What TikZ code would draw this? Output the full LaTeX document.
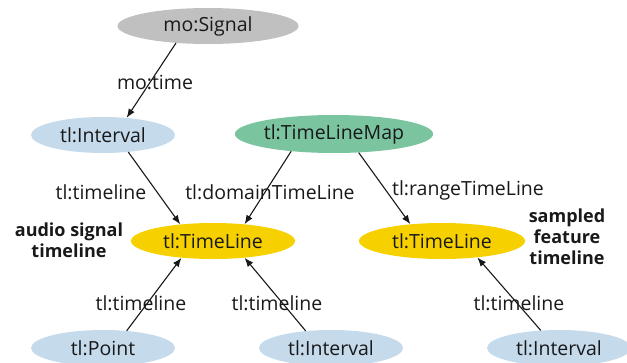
\documentclass[tikz,border=0pt]{standalone}
\usepackage{fontspec}
\setmainfont{Open Sans}
\usetikzlibrary{shapes.geometric,arrows.meta}
\definecolor{sigGray}{RGB}{192,192,192}
\definecolor{intBlue}{RGB}{197,218,235}
\definecolor{mapGreen}{RGB}{122,196,160}
\definecolor{lineYellow}{RGB}{247,208,0}
\tikzset{
  cls/.style={ellipse, inner sep=0pt, minimum height=36pt, font=\fontsize{19.5}{22}\selectfont, text=black!90},
  lbl/.style={font=\fontsize{19.5}{22}\selectfont, text=black!90, inner sep=0pt},
  note/.style={font=\fontsize{18}{21}\selectfont\bfseries, align=center, text=black!90, inner sep=0pt},
  rel/.style={-{Latex[length=9pt,width=7pt]}, line width=1.1pt, black!90},
}
\begin{document}
\begin{tikzpicture}[x=1pt,y=-1pt]
\useasboundingbox (0,0) rectangle (627,362);
% classes
\node[cls, fill=sigGray, minimum width=181pt] (sig) at (208,26) {mo:Signal};
\node[cls, fill=intBlue, minimum width=144pt] (ivA) at (103,135) {tl:Interval};
\node[cls, fill=mapGreen, minimum width=191pt, minimum height=38pt] (map) at (334,134) {tl:TimeLineMap};
\node[cls, fill=lineYellow, minimum width=164pt] (tlA) at (213,241) {tl:TimeLine};
\node[cls, fill=lineYellow, minimum width=166pt] (tlB) at (442,241) {tl:TimeLine};
\node[cls, fill=intBlue, minimum width=144pt] (pt) at (103,348) {tl:Point};
\node[cls, fill=intBlue, minimum width=144pt] (ivB) at (331,348) {tl:Interval};
\node[cls, fill=intBlue, minimum width=144pt] (ivC) at (559,348) {tl:Interval};
% side notes
\node[note] (noteA) at (69,240) {audio signal\\timeline};
\node[note] (noteB) at (567,237) {sampled\\feature\\timeline};
% properties
\draw[rel] (sig.-152) -- (ivA.36);
\draw[rel] (ivA.-34) -- (tlA.153);
\draw[rel] (map.-158) -- (tlA.28);
\draw[rel] (map.-37) -- (tlB.152);
\draw[rel] (pt.36) -- (tlA.-152);
\draw[rel] (ivB.146) -- (tlA.-28);
\draw[rel] (ivC.136) -- (tlB.-25);
% property labels
\node[lbl] (pSig) at (155,82) {mo:time};
\node[lbl] (pA) at (101,192) {tl:timeline};
\node[lbl] (pDom) at (270,192) {tl:domainTimeLine};
\node[lbl] (pRng) at (468,190) {tl:rangeTimeLine};
\node[lbl] (pPt) at (141,303) {tl:timeline};
\node[lbl] (pB) at (277,303) {tl:timeline};
\node[lbl] (pC) at (519,303) {tl:timeline};
\end{tikzpicture}
\end{document}
